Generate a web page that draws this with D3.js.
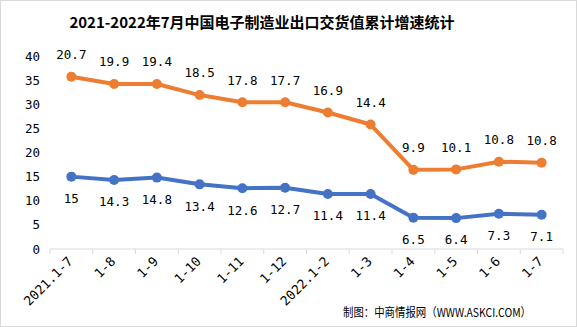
<!DOCTYPE html>
<html><head><meta charset="utf-8">
<script src="https://cdn.jsdelivr.net/npm/d3@7"></script>
<style>body{margin:0;background:#fff}svg{display:block}</style>
</head><body>
<svg id="c" width="577" height="327"></svg>
<script>
const categories = ["2021.1-7","1-8","1-9","1-10","1-11","1-12","2022.1-2","1-3","1-4","1-5","1-6","1-7"];
const seriesBlue = [15,14.3,14.8,13.4,12.6,12.7,11.4,11.4,6.5,6.4,7.3,7.1];
const seriesOrange = [20.7,19.9,19.4,18.5,17.8,17.7,16.9,14.4,9.9,10.1,10.8,10.8];
const yTicks = [0,5,10,15,20,25,30,35,40];
const titleText = "2021-2022年7月中国电子制造业出口交货值累计增速统计";
const sourceText = "制图：中商情报网（WWW.ASKCI.COM）";

const svg = d3.select("#c");
const numFont = "'DejaVu Sans Mono','Liberation Mono',monospace";
const cjkFont = "'Noto Sans CJK SC','Noto Sans',sans-serif";

svg.append("rect").attr("x",0.5).attr("y",0.5).attr("width",576).attr("height",326)
  .attr("fill","#fff").attr("stroke","#d9d9d9");

const x = d3.scaleBand().domain(categories).range([50,563]);
const y = d3.scaleLinear().domain([0,40]).range([249,56]);

const table = categories.map((c,i)=>({cat:c, blue:seriesBlue[i], orange:seriesOrange[i]}));
const stacked = d3.stack().keys(["blue","orange"])(table);
const cx = d => x(d.data.cat) + x.bandwidth()/2;

// title
svg.append("text").attr("x",262).attr("y",28).attr("text-anchor","middle")
  .attr("font-family",cjkFont).attr("font-weight","bold").attr("font-size",15)
  .attr("fill","#000").text(titleText);

// y axis
const yAxis = svg.append("g").attr("transform","translate(50,0)")
  .call(d3.axisLeft(y).tickValues(yTicks).tickSize(0).tickPadding(10));
yAxis.select(".domain").remove();
yAxis.selectAll("text").attr("font-family",numFont).attr("font-size",12.5).attr("fill","#000");

// x axis
const xAxis = svg.append("g").attr("transform","translate(0,249)");
xAxis.append("line").attr("x1",50).attr("x2",563).attr("y1",0).attr("y2",0).attr("stroke","#d9d9d9");
const bounds = categories.map(c=>x(c)).concat([x.range()[1]]);
xAxis.selectAll("line.tk").data(bounds).join("line").attr("class","tk")
  .attr("x1",d=>d).attr("x2",d=>d).attr("y1",0).attr("y2",5).attr("stroke","#d9d9d9");
xAxis.selectAll("text").data(categories).join("text")
  .attr("transform",c=>`translate(${x(c)+x.bandwidth()/2-1},${10}) rotate(-45)`)
  .attr("text-anchor","end").attr("dy","0.35em")
  .attr("font-family",numFont).attr("font-size",13).attr("fill","#000").text(c=>c);

// lines
const colors = {blue:"#4472C4", orange:"#ED7D31"};
stacked.forEach(s=>{
  const line = d3.line().x(cx).y(d=>y(d[1]));
  svg.append("path").datum(s).attr("d",line).attr("fill","none")
    .attr("stroke",colors[s.key]).attr("stroke-width",4).attr("stroke-linejoin","round");
  svg.selectAll(null).data(s).join("circle").attr("cx",cx).attr("cy",d=>y(d[1]))
    .attr("r",5).attr("fill",colors[s.key]);
  const above = s.key==="orange";
  svg.selectAll(null).data(s).join("text").attr("x",cx)
    .attr("y",d=>y(d[1]) + (above? -22 : 22)).attr("dy","0.35em")
    .attr("text-anchor","middle").attr("font-family",numFont).attr("font-size",12.5)
    .attr("fill","#000").text(d=>d.data[s.key]);
});

// source
svg.append("text").attr("x",343).attr("y",317).attr("font-family",cjkFont)
  .attr("font-size",12).attr("textLength",188).attr("lengthAdjust","spacingAndGlyphs")
  .attr("fill","#000").text(sourceText);
</script>
</body></html>
